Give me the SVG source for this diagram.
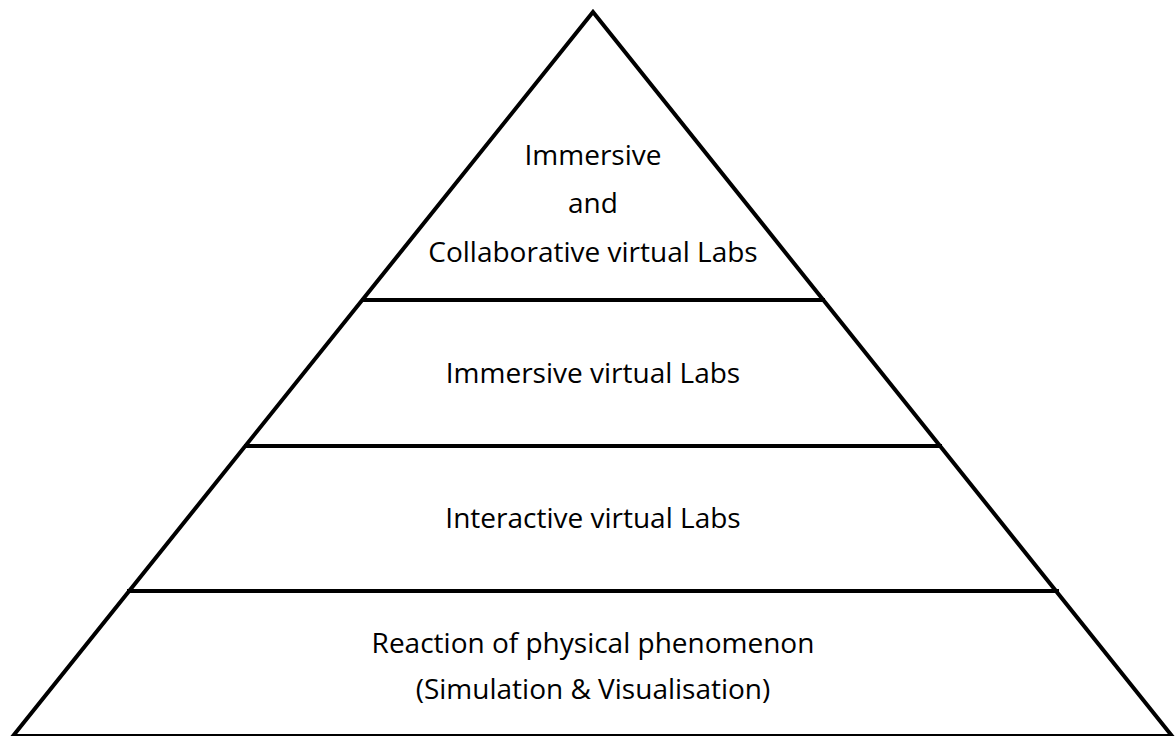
<svg xmlns="http://www.w3.org/2000/svg" width="1175" height="736" viewBox="0 0 1175 736">
<style>
.edge{fill:none;stroke:#000;stroke-width:4;stroke-linejoin:miter}
.lbl{font-family:"Open Sans","Liberation Sans",sans-serif;font-size:28px;fill:#000;text-anchor:middle}
</style>
<rect width="1175" height="736" fill="#fff"/>
<g id="pyramid">
<polygon class="edge" points="593,12 1172,736 13,736"/>
</g>
<g id="connectors">
<line class="edge" x1="361" y1="300" x2="825" y2="300"/>
<line class="edge" x1="244" y1="446" x2="942" y2="446"/>
<line class="edge" x1="127" y1="591" x2="1059" y2="591"/>
</g>
<g id="level4">
<text class="lbl" x="593" y="165">Immersive</text>
<text class="lbl" x="593" y="213">and</text>
<text class="lbl" x="593" y="262">Collaborative virtual Labs</text>
</g>
<g id="level3">
<text class="lbl" x="593" y="383">Immersive virtual Labs</text>
</g>
<g id="level2">
<text class="lbl" x="593" y="528">Interactive virtual Labs</text>
</g>
<g id="level1">
<text class="lbl" x="593" y="653">Reaction of physical phenomenon</text>
<text class="lbl" x="593" y="699">(Simulation &amp; Visualisation)</text>
</g>
</svg>
